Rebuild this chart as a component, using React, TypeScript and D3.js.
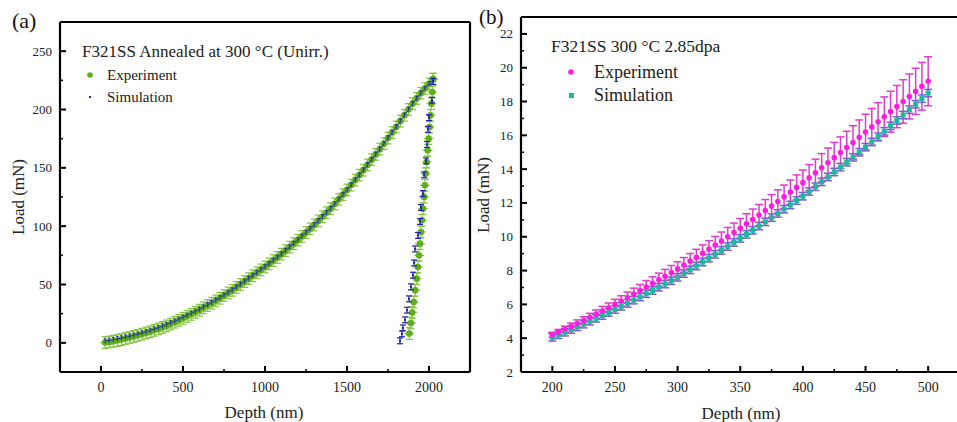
import React from "react";
import * as d3 from "d3";

// ---------- Panel (a) data ----------
const aLoadDepth = [25,50,75,100,125,150,175,200,225,250,275,300,325,350,375,400,425,450,475,500,525,550,575,600,625,650,675,700,725,750,775,800,825,850,875,900,925,950,975,1000,1025,1050,1075,1100,1125,1150,1175,1200,1225,1250,1275,1300,1325,1350,1375,1400,1425,1450,1475,1500,1525,1550,1575,1600,1625,1650,1675,1700,1725,1750,1775,1800,1825,1850,1875,1900,1925,1950,1975,2000,2025];
const aExpLoad = [0.3,0.7,1.3,2.0,2.8,3.7,4.6,5.5,6.4,7.4,8.4,9.5,10.7,11.9,13.2,14.5,16.1,17.7,19.3,21.0,22.7,24.4,26.2,28.0,30.0,32.0,34.0,36.0,38.2,40.5,42.7,45.0,47.5,50.0,52.5,55.0,57.5,60.0,62.5,65.0,67.7,70.5,73.2,76.0,79.0,82.0,85.0,88.0,91.2,94.5,97.7,101.0,104.5,108.0,111.5,115.0,119.0,123.0,127.0,131.0,135.2,139.5,143.7,148.0,152.5,157.0,161.5,166.0,170.7,175.5,180.2,185.0,190.0,195.0,200.0,205.0,209.5,214.0,218.0,222.0,226.0];
const aSimLoad = [1.5,2.0,2.6,3.3,4.0,4.8,5.6,6.5,7.4,8.4,9.4,10.5,11.7,12.9,14.2,15.5,17.0,18.5,20.1,21.8,23.4,25.1,26.8,28.6,30.5,32.4,34.4,36.4,38.5,40.7,42.9,45.2,47.6,50.1,52.6,55.1,57.6,60.1,62.6,65.1,67.7,70.5,73.2,76.0,79.0,82.0,85.0,88.0,91.2,94.5,97.7,101.0,104.5,108.0,111.5,115.0,119.0,123.0,127.0,131.0,135.2,139.5,143.7,148.0,152.5,157.0,161.5,166.0,170.7,175.5,180.2,185.0,190.0,195.0,200.0,205.0,209.5,214.0,218.0,222.0,225.0];
const aExpUnloadDepth = [2025,2020,2015,2010,2004,1998,1992,1986,1980,1975,1970,1963,1957,1951,1945,1939,1932,1925,1916,1907,1898,1890,1880];
const aExpUnloadLoad = [226,215,205,195,185,175,165,155,145,135,125,115,105,95,85,75,65,55,45,35,26,17,8];
const aSimUnloadDepth = [2025,2018,2000,1994,1988,1982,1970,1963,1951,1945,1933,1915,1909,1902,1890,1878,1866,1854,1841,1835,1823];
const aSimUnloadLoad = [224,208,193,183,170,156,144,128,116,104,92,80.5,68.5,58,48,37.7,28,19.7,12.8,7.7,1.7];
const aXTicks = [0,500,1000,1500,2000];
const aYTicks = [0,50,100,150,200,250];

// ---------- Panel (b) data ----------
const bDepth = [200,205,210,215,220,225,230,235,240,245,250,255,260,265,270,275,280,285,290,295,300,305,310,315,320,325,330,335,340,345,350,355,360,365,370,375,380,385,390,395,400,405,410,415,420,425,430,435,440,445,450,455,460,465,470,475,480,485,490,495,500];
const bExpLoad = [4.20,4.36,4.53,4.70,4.87,5.05,5.23,5.42,5.61,5.80,6.00,6.20,6.40,6.61,6.82,7.03,7.24,7.45,7.66,7.88,8.10,8.33,8.56,8.79,9.03,9.27,9.51,9.75,10.00,10.25,10.50,10.76,11.02,11.28,11.55,11.82,12.09,12.36,12.64,12.92,13.20,13.49,13.78,14.08,14.38,14.68,14.98,15.28,15.58,15.89,16.20,16.50,16.80,17.10,17.40,17.70,18.00,18.30,18.60,18.90,19.20];
const bExpErr = [0.15,0.16,0.18,0.19,0.21,0.22,0.24,0.25,0.27,0.28,0.30,0.31,0.33,0.35,0.36,0.38,0.39,0.40,0.41,0.42,0.42,0.44,0.45,0.47,0.49,0.50,0.51,0.53,0.55,0.56,0.58,0.60,0.62,0.63,0.65,0.67,0.69,0.70,0.72,0.74,0.75,0.78,0.81,0.84,0.87,0.90,0.93,0.96,0.99,1.02,1.05,1.09,1.13,1.17,1.21,1.25,1.29,1.33,1.37,1.41,1.45];
const bSimLoad = [4.05,4.20,4.35,4.51,4.67,4.83,5.00,5.17,5.34,5.52,5.70,5.88,6.06,6.25,6.44,6.63,6.82,7.01,7.20,7.40,7.60,7.82,8.04,8.27,8.50,8.73,8.96,9.19,9.42,9.66,9.90,10.14,10.38,10.63,10.88,11.13,11.38,11.63,11.88,12.14,12.40,12.68,12.96,13.25,13.54,13.83,14.12,14.41,14.70,15.00,15.30,15.61,15.92,16.24,16.56,16.88,17.20,17.52,17.84,18.17,18.50];
const bSimErr = 0.22;
const bXTicks = [200,250,300,350,400,450,500];
const bYTicks = [2,4,6,8,10,12,14,16,18,20,22];

const FONT = '"Liberation Serif", "DejaVu Serif", Times, serif';

type AxisProps = {
  x: d3.ScaleLinear<number, number>;
  y: d3.ScaleLinear<number, number>;
  xTicks: number[];
  yTicks: number[];
  xMinor: number[];
  yMinor: number[];
  box: boolean;
};

function T(props: any) {
  const { style, ...rest } = props;
  return <text {...rest} style={{ fontFamily: FONT, ...(style || {}) }} />;
}

function Axes({ x, y, xTicks, yTicks, xMinor, yMinor, box }: AxisProps) {
  const [x0, x1] = x.range();
  const [y0, y1] = y.range();
  return (
    <g>
      {xTicks.map((t) => (
        <g key={"xt" + t}>
          <line x1={x(t)} x2={x(t)} y1={y0} y2={y0 - 6} stroke="#000" strokeWidth={2} />
          <T x={x(t)} y={y0 + 20} textAnchor="middle" fontSize={14} fill="#222">{t}</T>
        </g>
      ))}
      {xMinor.map((t) => (
        <line key={"xm" + t} x1={x(t)} x2={x(t)} y1={y0} y2={y0 - 3} stroke="#000" strokeWidth={1.5} />
      ))}
      {yTicks.map((t) => (
        <g key={"yt" + t}>
          <line x1={x0} x2={x0 + 6} y1={y(t)} y2={y(t)} stroke="#000" strokeWidth={2} />
          <T x={x0 - 8} y={y(t) + 4.5} textAnchor="end" fontSize={13} fill="#222">{t}</T>
        </g>
      ))}
      {yMinor.map((t) => (
        <line key={"ym" + t} x1={x0} x2={x0 + 3} y1={y(t)} y2={y(t)} stroke="#000" strokeWidth={1.5} />
      ))}
      <line x1={x0} x2={x1} y1={y0} y2={y0} stroke="#000" strokeWidth={2.2} />
      <line x1={x0} x2={x0} y1={y0} y2={y1} stroke="#000" strokeWidth={2.2} />
      <line x1={x0} x2={x1} y1={y1} y2={y1} stroke="#000" strokeWidth={2.2} />
      {box && <line x1={x1} x2={x1} y1={y0} y2={y1} stroke="#000" strokeWidth={2.2} />}
    </g>
  );
}

export default function App() {
  const ax = d3.scaleLinear().domain([-250, 2250]).range([60, 470]);
  const ay = d3.scaleLinear().domain([-25, 275]).range([372, 22]);
  const bx = d3.scaleLinear().domain([175, 527]).range([521, 962]);
  const by = d3.scaleLinear().domain([2, 23]).range([372, 17]);

  const aExp = aLoadDepth.map((d, i) => ({ d, l: aExpLoad[i] })).concat(
    aExpUnloadDepth.map((d, i) => ({ d, l: aExpUnloadLoad[i] }))
  );
  const aSimLoadPts = aLoadDepth.map((d, i) => ({ d, l: aSimLoad[i] }));
  const aSimUnloadPts = aSimUnloadDepth.map((d, i) => ({ d, l: aSimUnloadLoad[i] }));

  const green = "#5fae1c";
  const greenErr = "#86c440";
  const blue = "#1f24a8";
  const magenta = "#ff1ee0";
  const magErr = "#e03ccc";
  const teal = "#1cb8a0";
  const tealErr = "#7a62c8";

  const aXMinor = [250, 750, 1250, 1750];
  const aYMinor = [25, 75, 125, 175, 225];
  const bXMinor = [225, 275, 325, 375, 425, 475, 525].filter((v) => v < 527);
  const bYMinor = [3, 5, 7, 9, 11, 13, 15, 17, 19, 21];

  const simLine = d3.line<{ d: number; l: number }>().x((p) => ax(p.d)).y((p) => ay(p.l));

  return (
    <svg width={957} height={422} style={{ display: "block", position: "absolute", left: 0, top: 0 }}>
      <rect width={957} height={422} fill="#fff" />
      {/* ---------- Panel (a) ---------- */}
      <g>
        {aExp.map((p, i) => (
          <g key={"ae" + i} stroke={greenErr} strokeWidth={1.2}>
            <line x1={ax(p.d)} x2={ax(p.d)} y1={ay(p.l - 5)} y2={ay(p.l + 5)} />
            <line x1={ax(p.d) - 3.5} x2={ax(p.d) + 3.5} y1={ay(p.l + 5)} y2={ay(p.l + 5)} />
            <line x1={ax(p.d) - 3.5} x2={ax(p.d) + 3.5} y1={ay(p.l - 5)} y2={ay(p.l - 5)} />
            <line x1={ax(p.d - 30)} x2={ax(p.d + 30)} y1={ay(p.l)} y2={ay(p.l)} />
          </g>
        ))}
        {aExp.map((p, i) => (
          <circle key={"ac" + i} cx={ax(p.d)} cy={ay(p.l)} r={3.3} fill={green} />
        ))}
        <path d={simLine(aSimLoadPts) || ""} fill="none" stroke={blue} strokeWidth={0.8} />
        {aSimLoadPts.map((p, i) => (
          <g key={"asl" + i} stroke={blue} strokeWidth={0.8}>
            <line x1={ax(p.d) - 1.5} x2={ax(p.d) + 1.5} y1={ay(p.l + 2)} y2={ay(p.l + 2)} />
            <line x1={ax(p.d)} x2={ax(p.d)} y1={ay(p.l - 2)} y2={ay(p.l + 2)} />
          </g>
        ))}
        {aSimUnloadPts.map((p, i) => (
          <g key={"asu" + i} stroke={blue} strokeWidth={1.2}>
            <line x1={ax(p.d)} x2={ax(p.d)} y1={ay(p.l - 2.5)} y2={ay(p.l + 2.5)} />
            <line x1={ax(p.d) - 3} x2={ax(p.d) + 3} y1={ay(p.l + 2.5)} y2={ay(p.l + 2.5)} />
            <line x1={ax(p.d) - 3} x2={ax(p.d) + 3} y1={ay(p.l - 2.5)} y2={ay(p.l - 2.5)} />
          </g>
        ))}
        {aSimUnloadPts.map((p, i) => (
          <rect key={"asr" + i} x={ax(p.d) - 1} y={ay(p.l) - 1} width={2} height={2} fill={blue} />
        ))}
        <Axes x={ax} y={ay} xTicks={aXTicks} yTicks={aYTicks} xMinor={aXMinor} yMinor={aYMinor} box={true} />
        <T x={12} y={28} fontSize={22} fill="#111">(a)</T>
        <T x={82} y={57} fontSize={17} fill="#222">F321SS Annealed at 300 °C (Unirr.)</T>
        <circle cx={90} cy={75} r={2.8} fill={green} />
        <T x={107} y={80} fontSize={15} fill="#222">Experiment</T>
        <rect x={89} y={96} width={2} height={2} fill={blue} />
        <T x={107} y={102} fontSize={15} fill="#222">Simulation</T>
        <T x={264} y={418} textAnchor="middle" fontSize={17} fill="#222">Depth (nm)</T>
        <T transform="translate(24,197) rotate(-90)" textAnchor="middle" fontSize={17} fill="#222">Load (mN)</T>
      </g>

      {/* ---------- Panel (b) ---------- */}
      <g>
        {bDepth.map((d, i) => {
          const e = bExpErr[i];
          return (
            <g key={"be" + i} stroke={magErr} strokeWidth={1.5}>
              <line x1={bx(d)} x2={bx(d)} y1={by(bExpLoad[i] - e)} y2={by(bExpLoad[i] + e)} />
              <line x1={bx(d) - 4} x2={bx(d) + 4} y1={by(bExpLoad[i] + e)} y2={by(bExpLoad[i] + e)} />
              <line x1={bx(d) - 4} x2={bx(d) + 4} y1={by(bExpLoad[i] - e)} y2={by(bExpLoad[i] - e)} />
            </g>
          );
        })}
        {bDepth.map((d, i) => (
          <g key={"bs" + i} stroke={tealErr} strokeWidth={1.5}>
            <line x1={bx(d)} x2={bx(d)} y1={by(bSimLoad[i] - bSimErr)} y2={by(bSimLoad[i] + bSimErr)} />
            <line x1={bx(d) - 4} x2={bx(d) + 4} y1={by(bSimLoad[i] + bSimErr)} y2={by(bSimLoad[i] + bSimErr)} />
            <line x1={bx(d) - 4} x2={bx(d) + 4} y1={by(bSimLoad[i] - bSimErr)} y2={by(bSimLoad[i] - bSimErr)} />
          </g>
        ))}
        {bDepth.map((d, i) => (
          <rect key={"bsr" + i} x={bx(d) - 2.5} y={by(bSimLoad[i]) - 2.5} width={5} height={5} fill={teal} />
        ))}
        {bDepth.map((d, i) => (
          <circle key={"bec" + i} cx={bx(d)} cy={by(bExpLoad[i])} r={2.8} fill={magenta} />
        ))}
        <Axes x={bx} y={by} xTicks={bXTicks} yTicks={bYTicks} xMinor={bXMinor} yMinor={bYMinor} box={false} />
        <T x={479} y={24} fontSize={21} fill="#111">(b)</T>
        <T x={551} y={52} fontSize={17.5} fill="#222">F321SS 300 °C 2.85dpa</T>
        <circle cx={571} cy={72} r={2.8} fill={magenta} />
        <T x={594} y={78} fontSize={18} fill="#222">Experiment</T>
        <rect x={569} y={93} width={5} height={5} fill={teal} />
        <T x={594} y={101} fontSize={18} fill="#222">Simulation</T>
        <T x={741} y={419} textAnchor="middle" fontSize={17} fill="#222">Depth (nm)</T>
        <T transform="translate(489,195) rotate(-90)" textAnchor="middle" fontSize={17} fill="#222">Load (mN)</T>
      </g>
    </svg>
  );
}
